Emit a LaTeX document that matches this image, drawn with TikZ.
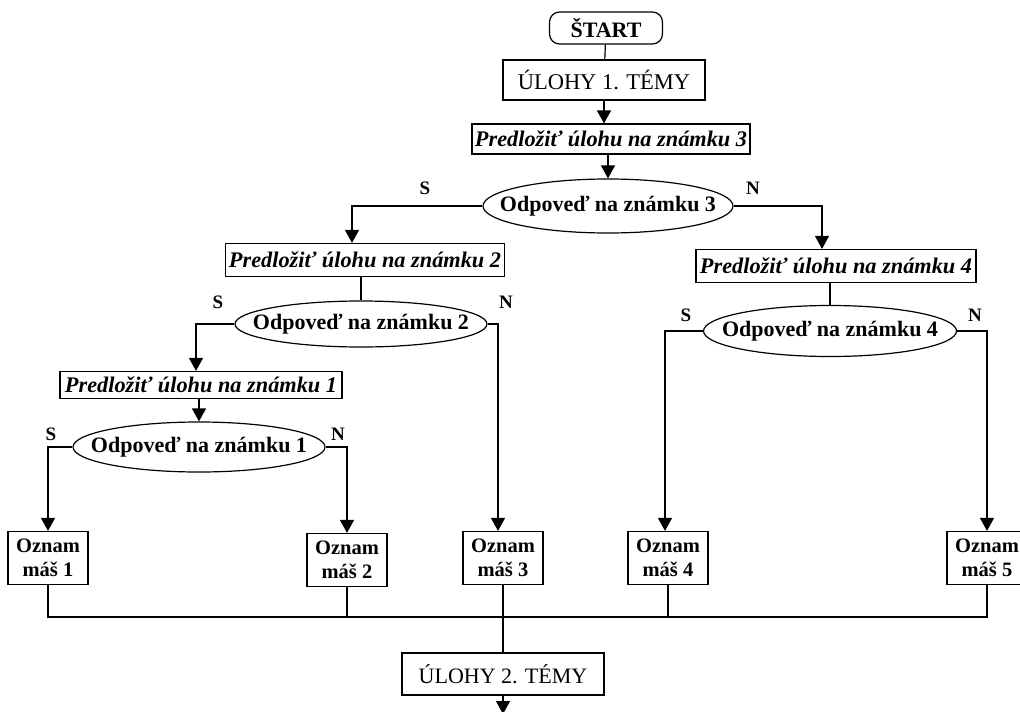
\documentclass[tikz,border=0pt]{standalone}
\usepackage{fontspec}
\setmainfont{Liberation Serif}
\usetikzlibrary{arrows.meta,shapes.geometric}
\begin{document}
\begin{tikzpicture}[x=1pt,y=-1pt,line width=1.2pt,
  arr/.style={-{Triangle[width=14pt,length=13pt]}},
  fb/.style={font=\fontsize{20.5}{24}\selectfont\bfseries},
  boxnode/.style={draw,rectangle,inner sep=0pt,align=center},
  task/.style={boxnode,font=\fontsize{22.3}{24}\selectfont\bfseries\itshape},
  ask/.style={draw,ellipse,inner sep=0pt,font=\fontsize{22}{24}\selectfont\bfseries},
  note/.style={boxnode,fb,minimum width=80pt,minimum height=53pt},
  lab/.style={font=\fontsize{19}{22}\selectfont\bfseries,inner sep=0pt}]
\useasboundingbox (0,0) rectangle (1020,712);

\node[draw,rounded corners=10pt,minimum width=113pt,minimum height=32pt,inner sep=0pt,
  font=\fontsize{22}{24}\selectfont\bfseries] (start) at (606,28) {ŠTART};
\node[boxnode,minimum width=202pt,minimum height=40pt,font=\fontsize{22.5}{24}\selectfont] (t1) at (604,80) {ÚLOHY 1. TÉMY};
\node[task,minimum width=278pt,minimum height=30pt] (p3) at (611,139) {Predložiť úlohu na známku 3};
\node[ask,minimum width=250pt,minimum height=54pt] (e3) at (608,206) {\makebox[0pt]{Odpoveď na známku 3}};

\node[task,minimum width=279pt,minimum height=33pt] (p2) at (365,260) {Predložiť úlohu na známku 2};
\node[ask,minimum width=252pt,minimum height=46pt] (e2) at (361,324) {\makebox[0pt]{Odpoveď na známku 2}};
\node[task,minimum width=282pt,minimum height=27pt] (p1) at (201,385) {Predložiť úlohu na známku 1};
\node[ask,minimum width=252pt,minimum height=50pt] (e1) at (199,447) {\makebox[0pt]{Odpoveď na známku 1}};

\node[task,minimum width=280pt,minimum height=33pt] (p4) at (836,266) {Predložiť úlohu na známku 4};
\node[ask,minimum width=253pt,minimum height=51pt] (e4) at (830,331) {\makebox[0pt]{Odpoveď na známku 4}};

\node[note] (o1) at (48,558) {Oznam\\máš 1};
\node[note] (o2) at (347,560) {Oznam\\máš 2};
\node[note] (o3) at (503,558) {Oznam\\máš 3};
\node[note] (o4) at (668,558) {Oznam\\máš 4};
\node[note] (o5) at (987,558) {Oznam\\máš 5};

\node[boxnode,minimum width=202pt,minimum height=42pt,font=\fontsize{22}{24}\selectfont] (t2) at (503,674) {ÚLOHY 2. TÉMY};

\node[lab] (s3) at (425,188) {S};
\node[lab] (n3) at (753,188) {N};
\node[lab] (s2) at (218,302) {S};
\node[lab] (n2) at (506,302) {N};
\node[lab] (s1) at (51,434) {S};
\node[lab] (n1) at (338,434) {N};
\node[lab] (s4) at (686,315) {S};
\node[lab] (n4) at (975,315) {N};

\coordinate (bus) at (0,617);
\coordinate (down) at (0,714);
\coordinate (x3l) at (352,0);
\coordinate (x3r) at (822,0);
\coordinate (x2l) at (196,0);
\coordinate (x2r) at (498,0);
\coordinate (x1l) at (48,0);
\coordinate (x1r) at (347,0);
\coordinate (x4l) at (665,0);
\coordinate (x4r) at (987,0);

\draw (start) -- (t1);
\draw[arr] (t1.south) -- (t1.south |- p3.north);
\draw[arr] (e3.north |- p3.south) -- (e3.north);
\draw[arr] (e3.west) -| (x3l |- p2.north);
\draw[arr] (e3.east) -| (x3r |- p4.north);
\draw (p2.south -| e2.north) -- (e2.north);
\draw[arr] (e2.west) -| (x2l |- p1.north);
\draw[arr] (e2.east) -| (x2r |- o3.north);
\draw[arr] (p1.south -| e1.north) -- (e1.north);
\draw[arr] (e1.west) -| (x1l |- o1.north);
\draw[arr] (e1.east) -| (x1r |- o2.north);
\draw (p4.south -| e4.north) -- (e4.north);
\draw[arr] (e4.west) -| (x4l |- o4.north);
\draw[arr] (e4.east) -| (x4r |- o5.north);

\draw (o1.south) -- (o1.south |- bus) -- (o5.south |- bus) -- (o5.south);
\draw (o2.south) -- (o2.south |- bus);
\draw (o4.south) -- (o4.south |- bus);
\draw (o3.south) -- (t2.north);
\draw[arr] (t2.south) -- (t2.south |- down);
\end{tikzpicture}
\end{document}
